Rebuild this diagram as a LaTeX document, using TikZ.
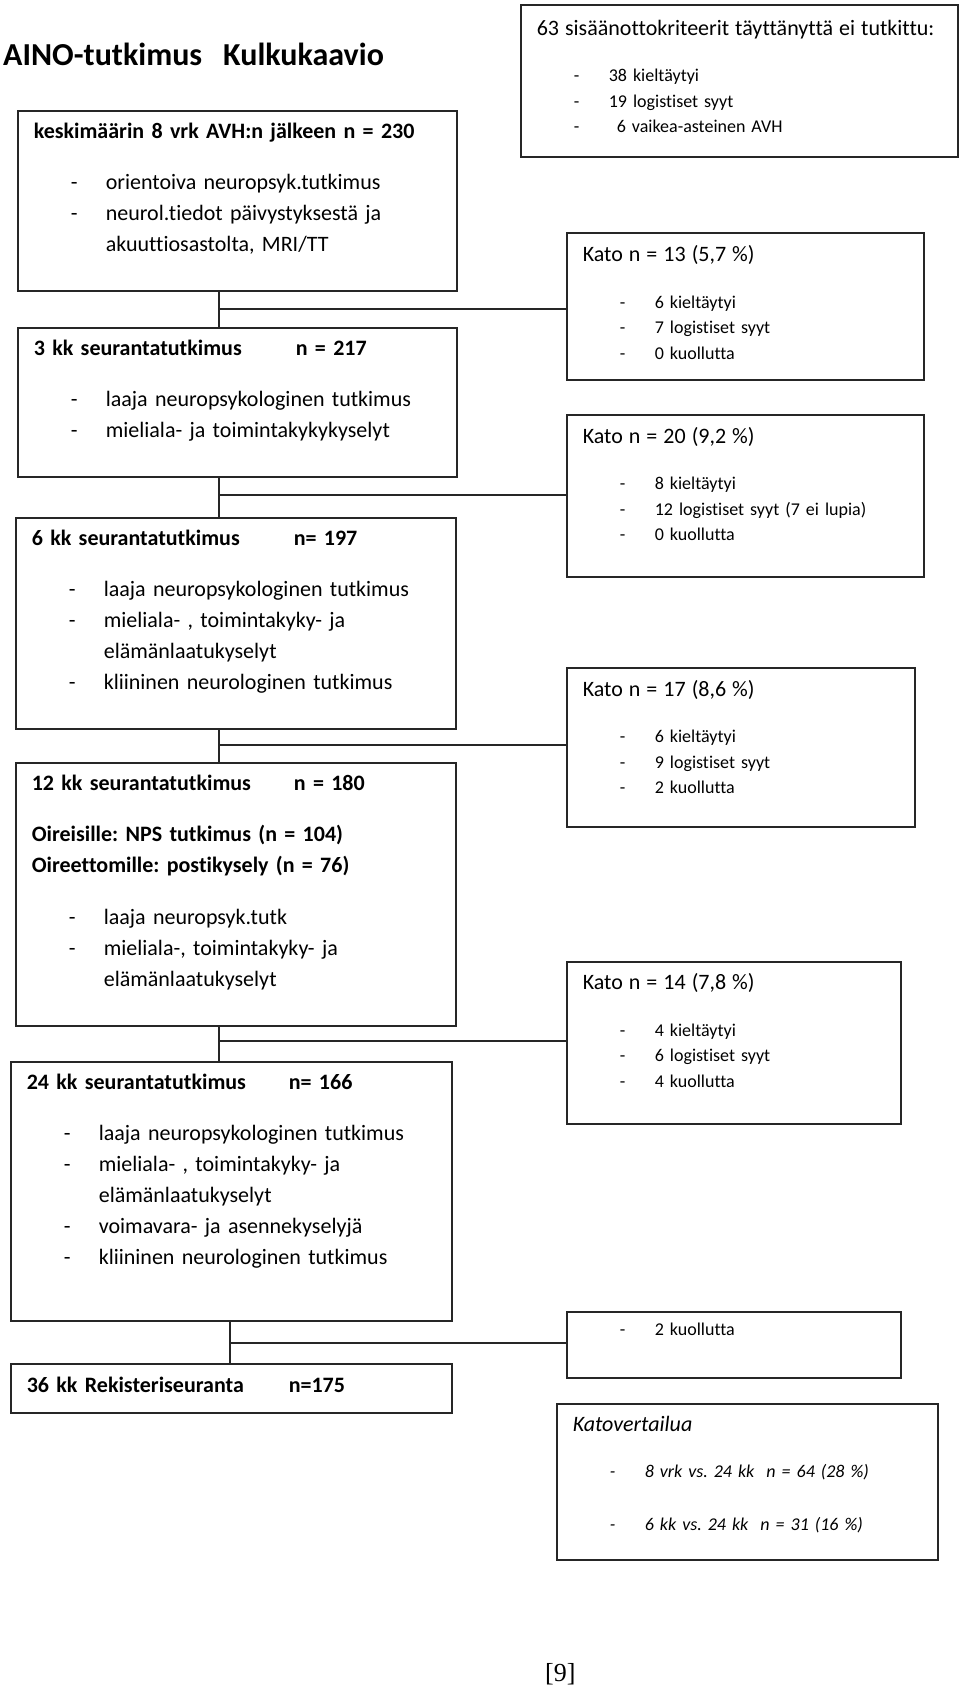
\documentclass[tikz,border=0pt]{standalone}
\usepackage{fontspec}
\setmainfont{Carlito}[Ligatures=NoCommon]
\newfontfamily\pagenumfont{Liberation Serif}
\usetikzlibrary{positioning, calc}
\frenchspacing

\newcommand{\dashline}[1]{\hspace*{37pt}\makebox[35pt][l]{-}#1}
\newcommand{\contline}[1]{\hspace*{72pt}#1}
\newcommand{\stage}[2]{\textbf{\makebox[262pt][l]{#1}#2}}
\newcommand{\bighead}[1]{{\fontsize{22}{31}\selectfont #1}}

\begin{document}
\begin{tikzpicture}[
  x=1pt, y=-1pt,
  box/.style={rectangle, draw=black!85, line width=1.6pt, anchor=north west,
              inner xsep=16pt, inner ysep=8pt, text height=20pt, align=left,
              font=\fontsize{22}{31}\selectfont},
  katobox/.style={box, font=\fontsize{18}{25.5}\selectfont},
  link/.style={line width=1.6pt, color=black!85}
]
\useasboundingbox (0,0) rectangle (960,1691);
% Title
\node[anchor=base west, inner sep=0pt, font=\fontsize{32}{38}\selectfont\bfseries]
  (title) at (3,66) {AINO-tutkimus\hspace{21pt}Kulkukaavio};
% Follow-up stages on the left
\node[box, text width=407pt, text depth=144pt] (b1) at (17,110) {%
  \textbf{keskimäärin 8 vrk AVH:n jälkeen n = 230}\\[20pt]
  \dashline{orientoiva neuropsyk.tutkimus}\\
  \dashline{neurol.tiedot päivystyksestä ja}\\
  \contline{akuuttiosastolta, MRI/TT}};
\node[box, text width=407pt, text depth=113pt] (b2) at (17,327) {%
  \stage{3 kk seurantatutkimus}{n = 217}\\[20pt]
  \dashline{laaja neuropsykologinen tutkimus}\\
  \dashline{mieliala- ja toimintakykykyselyt}};
\node[box, text width=408pt, text depth=175pt] (b3) at (15,517) {%
  \stage{6 kk seurantatutkimus}{n= 197}\\[20pt]
  \dashline{laaja neuropsykologinen tutkimus}\\
  \dashline{mieliala- , toimintakyky- ja}\\
  \contline{elämänlaatukyselyt}\\
  \dashline{kliininen neurologinen tutkimus}};
\node[box, text width=408pt, text depth=227pt] (b4) at (15,762) {%
  \stage{12 kk seurantatutkimus}{n = 180}\\[20pt]
  \textbf{Oireisille: NPS tutkimus (n = 104)}\\
  \textbf{Oireettomille: postikysely (n = 76)}\\[21pt]
  \dashline{laaja neuropsyk.tutk}\\
  \dashline{mieliala-, toimintakyky- ja}\\
  \contline{elämänlaatukyselyt}};
\node[box, text width=409pt, text depth=223pt] (b5) at (10,1061) {%
  \stage{24 kk seurantatutkimus}{n= 166}\\[20pt]
  \dashline{laaja neuropsykologinen tutkimus}\\
  \dashline{mieliala- , toimintakyky- ja}\\
  \contline{elämänlaatukyselyt}\\
  \dashline{voimavara- ja asennekyselyjä}\\
  \dashline{kliininen neurologinen tutkimus}};
\node[box, text width=409pt, text height=21pt, text depth=12pt] (b6) at (10,1363) {%
  \stage{36 kk Rekisteriseuranta}{n=175}};
% Drop-outs on the right
\node[katobox, text width=405pt, text height=23pt, text depth=113pt] (b0) at (520,4) {%
  \bighead{63 sisäänottokriteerit täyttänyttä ei tutkittu:}\\[20.5pt]
  \dashline{38 kieltäytyi}\\
  \dashline{19 logistiset syyt}\\
  \dashline{\hspace{8pt}6 vaikea-asteinen AVH}};
\node[katobox, text width=325pt, text height=21pt, text depth=110pt] (k1) at (566,232) {%
  \bighead{Kato n = 13 (5,7 \%)}\\[21pt]
  \dashline{6 kieltäytyi}\\
  \dashline{7 logistiset syyt}\\
  \dashline{0 kuollutta}};
\node[katobox, text width=325pt, text height=21pt, text depth=125pt] (k2) at (566,414) {%
  \bighead{Kato n = 20 (9,2 \%)}\\[20.5pt]
  \dashline{8 kieltäytyi}\\
  \dashline{12 logistiset syyt (7 ei lupia)}\\
  \dashline{0 kuollutta}};
\node[katobox, text width=316pt, text height=21pt, text depth=122pt] (k3) at (566,667) {%
  \bighead{Kato n = 17 (8,6 \%)}\\[20.5pt]
  \dashline{6 kieltäytyi}\\
  \dashline{9 logistiset syyt}\\
  \dashline{2 kuollutta}};
\node[katobox, text width=302pt, text depth=126pt] (k4) at (566,961) {%
  \bighead{Kato n = 14 (7,8 \%)}\\[21pt]
  \dashline{4 kieltäytyi}\\
  \dashline{6 logistiset syyt}\\
  \dashline{4 kuollutta}};
\node[katobox, text width=302pt, text height=16pt, text depth=34pt] (k5) at (566,1311) {%
  \dashline{2 kuollutta}};
\node[katobox, text width=349pt, text depth=120pt, font=\fontsize{18}{25.5}\selectfont\itshape]
  (kv) at (556,1403) {%
  \bighead{Katovertailua}\\[20.5pt]
  \dashline{8 vrk vs. 24 kk\ \ n = 64 (28 \%)}\\[27.5pt]
  \dashline{6 kk vs. 24 kk\ \ n = 31 (16 \%)}};
% Junctions of the flow lines
\coordinate (j1) at (219,309);
\coordinate (j2) at (219,495);
\coordinate (j3) at (219,745);
\coordinate (j4) at (219,1041);
\coordinate (j5) at (230,1343);
\draw[link] (b1.south -| j1) -- (b2.north -| j1);
\draw[link] (j1) -- (k1.west |- j1);
\draw[link] (b2.south -| j2) -- (b3.north -| j2);
\draw[link] (j2) -- (k2.west |- j2);
\draw[link] (b3.south -| j3) -- (b4.north -| j3);
\draw[link] (j3) -- (k3.west |- j3);
\draw[link] (b4.south -| j4) -- (b5.north -| j4);
\draw[link] (j4) -- (k4.west |- j4);
\draw[link] (b5.south -| j5) -- (b6.north -| j5);
\draw[link] (j5) -- (k5.west |- j5);
% Page number
\node[anchor=base west, inner sep=0pt, font=\pagenumfont\fontsize{26}{30}\selectfont]
  (pagenum) at (545,1681) {[9]};
\end{tikzpicture}
\end{document}
